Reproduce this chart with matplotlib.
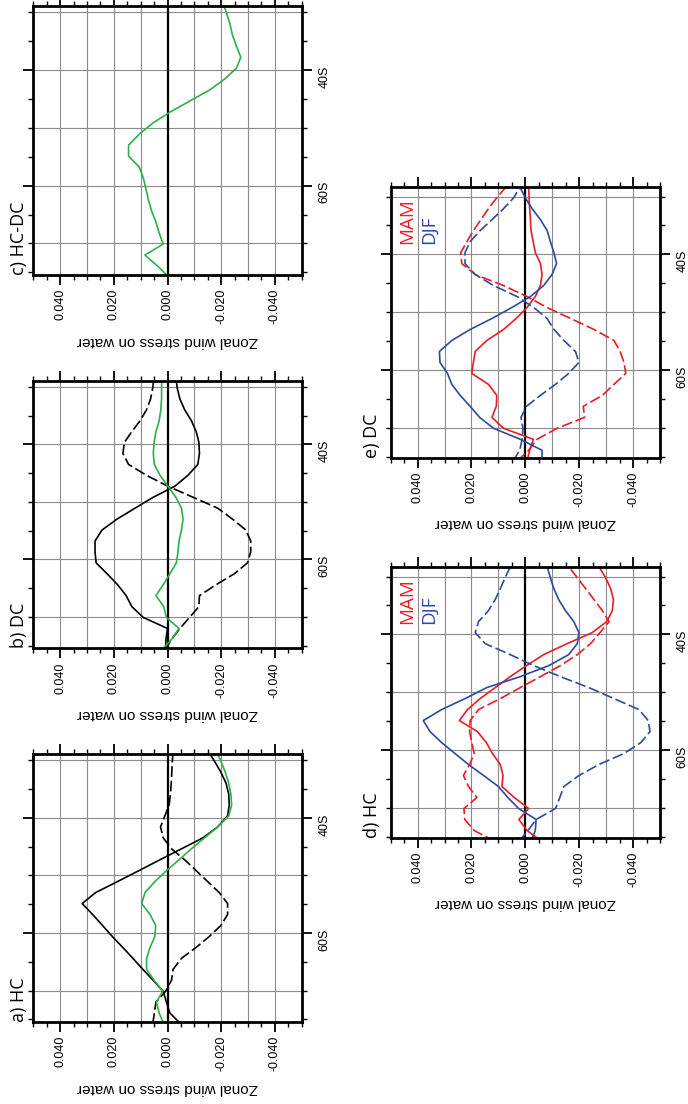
import numpy as np
import matplotlib
matplotlib.use("Agg")
import matplotlib.pyplot as plt
from matplotlib.ticker import FixedLocator, MultipleLocator

# Latitude grid (degrees, negative = south)
lat = [-75.8, -73.9, -72.0, -70.1, -68.2, -66.3, -64.4, -62.5, -60.6, -58.7,
       -56.8, -54.9, -53.0, -51.1, -49.2, -47.3, -45.4, -43.5, -41.6, -39.7,
       -37.8, -35.9, -34.0, -32.1, -30.2, -28.3]

# a) HC
hc_solid = [-0.0050, -0.0009, 0.0004, 0.0016, 0.0054, 0.0092, 0.0129, 0.0167, 0.0206, 0.0242,
            0.0279, 0.0318, 0.0268, 0.0187, 0.0107, 0.0028, -0.0052, -0.0132, -0.0187, -0.0224,
            -0.0230, -0.0228, -0.0218, -0.0199, -0.0175, -0.0150]
hc_dashed = [0.0055, 0.0049, 0.0043, 0.0007, -0.0015, -0.0021, -0.0052, -0.0107, -0.0156, -0.0199,
             -0.0224, -0.0224, -0.0193, -0.0150, -0.0107, -0.0064, -0.0015, 0.0016, 0.0026, 0.0010,
             -0.0006, -0.0011, -0.0014, -0.0016, -0.0018, -0.0021]
hc_green = [0.0014, 0.0031, 0.0041, 0.0018, 0.0050, 0.0078, 0.0078, 0.0065, 0.0047, 0.0044,
            0.0065, 0.0096, 0.0084, 0.0047, 0.0004, -0.0043, -0.0089, -0.0138, -0.0187, -0.0228,
            -0.0239, -0.0236, -0.0228, -0.0215, -0.0199, -0.0180]

# b) DC
dc_solid = [0.0007, 0.0006, 0.0000, 0.0090, 0.0133, 0.0154, 0.0186, 0.0225, 0.0266, 0.0270,
            0.0270, 0.0244, 0.0188, 0.0121, 0.0053, -0.0027, -0.0076, -0.0113, -0.0119, -0.0117,
            -0.0107, -0.0089, -0.0064, -0.0046, -0.0036, -0.0031]
dc_dashed = [0.0010, -0.0015, -0.0046, -0.0082, -0.0117, -0.0119, -0.0181, -0.0249, -0.0298, -0.0310,
             -0.0310, -0.0292, -0.0242, -0.0187, -0.0095, -0.0002, 0.0078, 0.0145, 0.0166, 0.0161,
             0.0133, 0.0102, 0.0078, 0.0063, 0.0055, 0.0050]
dc_green = [0.0022, -0.0015, -0.0043, 0.0004, 0.0014, 0.0043, 0.0016, -0.0009, -0.0033, -0.0039,
            -0.0043, -0.0052, -0.0058, -0.0052, -0.0031, -0.0002, 0.0028, 0.0049, 0.0053, 0.0050,
            0.0043, 0.0031, 0.0025, 0.0022, 0.0022, 0.0022]

# c) HC-DC
hc_minus_dc = [-0.0005, 0.0037, 0.0084, 0.0016, 0.0031, 0.0043, 0.0059, 0.0071, 0.0080, 0.0090,
               0.0105, 0.0145, 0.0145, 0.0105, 0.0055, -0.0009, -0.0082, -0.0156, -0.0212, -0.0257,
               -0.0273, -0.0257, -0.0242, -0.0233, -0.0220, -0.0206]

# d) HC by season
hc_mam_solid = [-0.0062, -0.0006, 0.0024, -0.0012, 0.0041, 0.0087, 0.0083, 0.0093, 0.0122, 0.0145,
                0.0178, 0.0245, 0.0215, 0.0168, 0.0112, 0.0056, -0.0004, -0.0068, -0.0155, -0.0248,
                -0.0302, -0.0323, -0.0327, -0.0317, -0.0298, -0.0273]
hc_mam_dashed = [0.0112, 0.0190, 0.0225, 0.0228, 0.0180, 0.0211, 0.0230, 0.0207, 0.0190, 0.0199,
                 0.0207, 0.0205, 0.0174, 0.0093, 0.0019, -0.0056, -0.0130, -0.0193, -0.0242, -0.0277,
                 -0.0311, -0.0286, -0.0255, -0.0224, -0.0193, -0.0161]
hc_djf_solid = [-0.0021, -0.0037, -0.0040, 0.0025, 0.0065, 0.0100, 0.0155, 0.0211, 0.0261, 0.0311,
                0.0354, 0.0379, 0.0311, 0.0224, 0.0143, 0.0019, -0.0087, -0.0161, -0.0193, -0.0199,
                -0.0180, -0.0149, -0.0124, -0.0106, -0.0093, -0.0081]
hc_djf_dashed = [0.0025, -0.0010, -0.0040, -0.0112, -0.0128, -0.0143, -0.0199, -0.0273, -0.0366, -0.0429,
                 -0.0463, -0.0456, -0.0422, -0.0329, -0.0236, -0.0130, -0.0031, 0.0056, 0.0149, 0.0186,
                 0.0174, 0.0137, 0.0112, 0.0093, 0.0075, 0.0056]

# e) DC by season
dc_mam_solid = [-0.0006, -0.0016, -0.0030, 0.0081, 0.0124, 0.0108, 0.0106, 0.0137, 0.0199, 0.0193,
                0.0186, 0.0143, 0.0081, 0.0034, -0.0006, -0.0037, -0.0056, -0.0062, -0.0056, -0.0037,
                -0.0029, -0.0021, -0.0019, -0.0016, -0.0014, -0.0012]
dc_mam_dashed = [0.0031, -0.0012, -0.0043, -0.0118, -0.0220, -0.0215, -0.0286, -0.0329, -0.0373, -0.0366,
                 -0.0352, -0.0329, -0.0255, -0.0168, -0.0081, -0.0006, 0.0081, 0.0186, 0.0236, 0.0240,
                 0.0217, 0.0193, 0.0165, 0.0137, 0.0106, 0.0071]
dc_djf_solid = [-0.0062, -0.0062, 0.0019, 0.0118, 0.0170, 0.0205, 0.0242, 0.0273, 0.0289, 0.0317,
                0.0319, 0.0273, 0.0205, 0.0124, 0.0050, -0.0019, -0.0068, -0.0099, -0.0116, -0.0106,
                -0.0093, -0.0081, -0.0056, -0.0025, 0.0000, 0.0021]
dc_djf_dashed = [0.0046, 0.0021, 0.0012, 0.0009, 0.0016, -0.0004, -0.0056, -0.0112, -0.0161, -0.0199,
                 -0.0186, -0.0143, -0.0106, -0.0081, -0.0031, 0.0031, 0.0118, 0.0186, 0.0224, 0.0224,
                 0.0205, 0.0168, 0.0124, 0.0081, 0.0043, 0.0019]

stress_ticks = [0.04, 0.02, 0.0, -0.02, -0.04]
stress_labels = ["0.040", "0.020", "0.000", "-0.020", "-0.040"]
lat_ticks = [-60, -40]
lat_labels = ["60S", "40S"]
axis_label = "Zonal wind stress on water"
season_names = ["MAM", "DJF"]

RED = "#ec1c24"
BLUE = "#2e4a9e"
GREEN = "#2bb04a"
DASH = (0, (6.5, 2.2))

W, H = 688, 1104
fig = plt.figure(figsize=(W / 100, H / 100), dpi=100)
fig.patch.set_facecolor("white")

TICK_FONT = "Liberation Sans"
TITLE_FONT = ["Open Sans", "DejaVu Sans"]


def add_panel(x0, y0, x1, y1, ylim):
    ax = fig.add_axes([x0 / W, 1 - y1 / H, (x1 - x0) / W, (y1 - y0) / H])
    ax.set_xlim(0.05, -0.05)
    ax.set_ylim(*ylim)
    for v in [0.04, 0.03, 0.02, 0.01, -0.01, -0.02, -0.03, -0.04]:
        ax.axvline(v, color="#8c8c8c", lw=0.8, zorder=1)
    for v in [-70, -60, -50, -40, -30]:
        ax.axhline(v, color="#8c8c8c", lw=0.8, zorder=1)
    ax.axvline(0.0, color="black", lw=1.6, zorder=2)

    ax.xaxis.set_major_locator(FixedLocator(stress_ticks))
    ax.set_xticklabels(stress_labels)
    ax.xaxis.set_minor_locator(MultipleLocator(0.005))
    ax.yaxis.set_major_locator(FixedLocator(lat_ticks))
    ax.set_yticklabels(lat_labels)
    ax.yaxis.set_minor_locator(MultipleLocator(5))

    ax.tick_params(which="both", direction="out", top=True, bottom=True,
                   left=True, right=True, labelleft=False, labelright=True,
                   colors="black")
    ax.tick_params(which="major", length=7, width=1.3)
    ax.tick_params(which="minor", length=3.5, width=1.0)
    ax.tick_params(axis="x", labelrotation=90, labelsize=9, pad=3)
    ax.tick_params(axis="y", labelrotation=90, labelsize=9, pad=5)
    for lab in ax.get_xticklabels() + ax.get_yticklabels():
        lab.set_fontfamily(TICK_FONT)
    for sp in ax.spines.values():
        sp.set_linewidth(2.0)
        sp.set_zorder(5)
    return ax


def finish_panel(ax, title, title_x, label_y):
    ax.text(title_x, 0.0, title, transform=ax.transAxes, rotation=90,
            ha="center", va="bottom", fontsize=13, family=TITLE_FONT)
    ax.text(0.5, label_y, axis_label, transform=ax.transAxes, rotation=180,
            ha="center", va="center", fontsize=11, family=TICK_FONT)


def season_legend(ax):
    ax.text(0.062, 0.79, season_names[0], transform=ax.transAxes, rotation=90,
            ha="center", va="bottom", fontsize=13.5, color=RED, family=TITLE_FONT,
            zorder=6)
    ax.text(0.142, 0.79, season_names[1], transform=ax.transAxes, rotation=90,
            ha="center", va="bottom", fontsize=13.5, color=BLUE, family=TITLE_FONT,
            zorder=6)


ylim_top = (-75.45, -28.95)
ylim_bot = (-75.2, -28.3)
lw = 1.2

# a) HC
ax_a = add_panel(33.3, 754, 301.7, 1022, ylim_top)
ax_a.plot(hc_solid, lat, color="black", lw=lw, zorder=3)
ax_a.plot(hc_dashed, lat, color="black", lw=lw, ls=DASH, zorder=3)
ax_a.plot(hc_green, lat, color=GREEN, lw=lw, zorder=4)
finish_panel(ax_a, "a) HC", -0.052, -0.246)

# b) DC
ax_b = add_panel(33.3, 380.7, 301.7, 648.3, ylim_top)
ax_b.plot(dc_solid, lat, color="black", lw=lw, zorder=3)
ax_b.plot(dc_dashed, lat, color="black", lw=lw, ls=DASH, zorder=3)
ax_b.plot(dc_green, lat, color=GREEN, lw=lw, zorder=4)
finish_panel(ax_b, "b) DC", -0.052, -0.246)

# c) HC-DC
ax_c = add_panel(33.3, 6, 301.7, 275, ylim_top)
ax_c.plot(hc_minus_dc, lat, color=GREEN, lw=lw, zorder=4)
finish_panel(ax_c, "c) HC-DC", -0.052, -0.246)

# d) HC seasonal
ax_d = add_panel(390.7, 566.7, 660, 838, ylim_bot)
ax_d.plot(hc_mam_solid, lat, color=RED, lw=lw, zorder=3)
ax_d.plot(hc_mam_dashed, lat, color=RED, lw=lw, ls=DASH, zorder=3)
ax_d.plot(hc_djf_solid, lat, color=BLUE, lw=lw, zorder=3)
ax_d.plot(hc_djf_dashed, lat, color=BLUE, lw=lw, ls=DASH, zorder=3)
season_legend(ax_d)
finish_panel(ax_d, "d) HC", -0.069, -0.24)

# e) DC seasonal
ax_e = add_panel(390.7, 186.7, 660, 457.8, ylim_bot)
ax_e.plot(dc_mam_solid, lat, color=RED, lw=lw, zorder=3)
ax_e.plot(dc_mam_dashed, lat, color=RED, lw=lw, ls=DASH, zorder=3)
ax_e.plot(dc_djf_solid, lat, color=BLUE, lw=lw, zorder=3)
ax_e.plot(dc_djf_dashed, lat, color=BLUE, lw=lw, ls=DASH, zorder=3)
season_legend(ax_e)
finish_panel(ax_e, "e) DC", -0.069, -0.24)

fig.savefig("out.png", dpi=100, facecolor="white")
